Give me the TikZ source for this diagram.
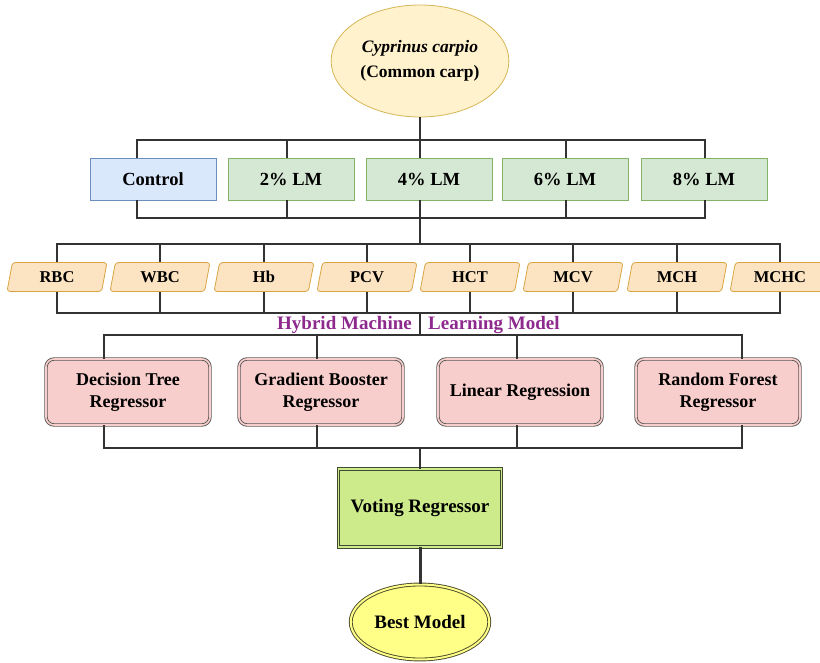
\documentclass[tikz,border=0pt]{standalone}
\usepackage{fontspec}
\setmainfont{Liberation Serif}
\usepackage{xcolor}
\usepackage{tikz}
\usetikzlibrary{calc,positioning,shapes.geometric}
\definecolor{wire}{HTML}{333333}
\definecolor{carpfill}{HTML}{FFF2CC}
\definecolor{carpline}{HTML}{D6B656}
\definecolor{ctrlfill}{HTML}{DAE8FC}
\definecolor{ctrlline}{HTML}{6C8EBF}
\definecolor{lmfill}{HTML}{D5E8D4}
\definecolor{lmline}{HTML}{82B366}
\definecolor{parfill}{HTML}{FCE3C2}
\definecolor{parline}{HTML}{D9A441}
\definecolor{regfill}{HTML}{F8CECC}
\definecolor{regline}{HTML}{5A5A5A}
\definecolor{votefill}{HTML}{CDEB8B}
\definecolor{voteline}{HTML}{3F4A33}
\definecolor{bestfill}{HTML}{FFFF88}
\definecolor{bestline}{HTML}{4A4A2A}
\definecolor{hybrid}{HTML}{8E2A8E}
\newcommand{\GrpFont}{\fontsize{18.5}{22}\selectfont\bfseries}
\newcommand{\ParFont}{\fontsize{16.5}{20}\selectfont\bfseries}
\newcommand{\RegFont}{\fontsize{18}{22}\selectfont\bfseries}
\newcommand{\BigFont}{\fontsize{19}{23}\selectfont\bfseries}
\newcommand{\CarpFont}{\fontsize{17.5}{24.5}\selectfont\bfseries}

\begin{document}
\begin{tikzpicture}[x=1pt,y=-1pt,
    wire/.style={draw=wire,line width=1.5},
    carp/.style={ellipse,draw=carpline,fill=carpfill,line width=0.8,minimum width=165,minimum height=112,align=center,font=\CarpFont},
    grp/.style={draw=lmline,fill=lmfill,line width=0.8,minimum width=126,minimum height=42,font=\GrpFont},
    param/.style={trapezium,trapezium left angle=64,trapezium right angle=116,trapezium stretches body,
      draw=parline,fill=parfill,line width=0.8,rounded corners=3,minimum width=100,minimum height=29,inner sep=0,font=\ParFont},
    hyb/.style={text=hybrid,font=\BigFont,inner sep=0},
    reg/.style={draw=regline,double=regfill,double distance=1.6,line width=0.9,fill=regfill,rounded corners=8,
      minimum width=164,minimum height=66,align=center,font=\RegFont},
    vote/.style={draw=voteline,double=votefill,double distance=1.5,line width=0.9,fill=votefill,minimum width=163,minimum height=78,font=\BigFont},
    best/.style={ellipse,draw=bestline,double=bestfill,double distance=2,line width=0.9,fill=bestfill,minimum width=136,minimum height=75,font=\BigFont}]
  \useasboundingbox (0,0) rectangle (820,663);
  \node[carp] (carp) at (420,61) {{\itshape Cyprinus carpio}\\(Common carp)};
  % bus points
  \coordinate (topbus) at (420,140);
  \coordinate (midbus) at (420,218);
  \coordinate (parbus) at (420,244);
  \coordinate (parlow) at (420,313);
  \coordinate (regbus) at (420,335);
  \coordinate (reglow) at (420,448);
  \draw[wire] (carp.south) -- (topbus);
  % treatment groups
  \node[grp,draw=ctrlline,fill=ctrlfill] (ctrl) at (153,179) {Control};
  \foreach \n/\x/\t in {lm2/291/2\% LM, lm4/429/4\% LM, lm6/565/6\% LM, lm8/704/8\% LM}
    \node[grp] (\n) at (\x,179) {\t};
  \foreach \n/\s in {ctrl/-16, lm2/-4, lm4/-9, lm6/1, lm8/1}{
    \draw[wire] ([xshift=\s]\n.north) |- (topbus);
    \draw[wire] ([xshift=\s]\n.south) |- (midbus);}
  \draw[wire] (midbus) -- (parbus);
  % blood indices
  \foreach \n/\x in {RBC/57, WBC/160, Hb/264, PCV/367, HCT/470, MCV/573, MCH/677, MCHC/780}{
    \node[param] (\n) at (\x,277) {\n};
    \draw[wire] (\n.north) |- (parbus);
    \draw[wire] (\n.south) |- (parlow);}
  \draw[wire] (parlow) -- (regbus);
  \node[hyb,anchor=east] (hybL) at (412,325) {Hybrid Machine};
  \node[hyb,anchor=west] (hybR) at (428,325) {Learning Model};
  % regressors
  \foreach \n/\x/\s/\t in {dt/128/-24/Decision Tree\\Regressor, gb/321/-4/Gradient Booster\\Regressor, lr/520/-3/Linear Regression, rf/718/24/Random Forest\\Regressor}{
    \node[reg] (\n) at (\x,392) {\t};
    \draw[wire] ([xshift=\s]\n.north) |- (regbus);
    \draw[wire] ([xshift=\s]\n.south) |- (reglow);}
  \node[vote] (vote) at (420,508) {Voting Regressor};
  \draw[wire] (reglow) -- (vote.north);
  \node[best] (best) at (420,622) {Best Model};
  \draw[wire,line width=3] (vote.south) -- (best.north);
\end{tikzpicture}
\end{document}
